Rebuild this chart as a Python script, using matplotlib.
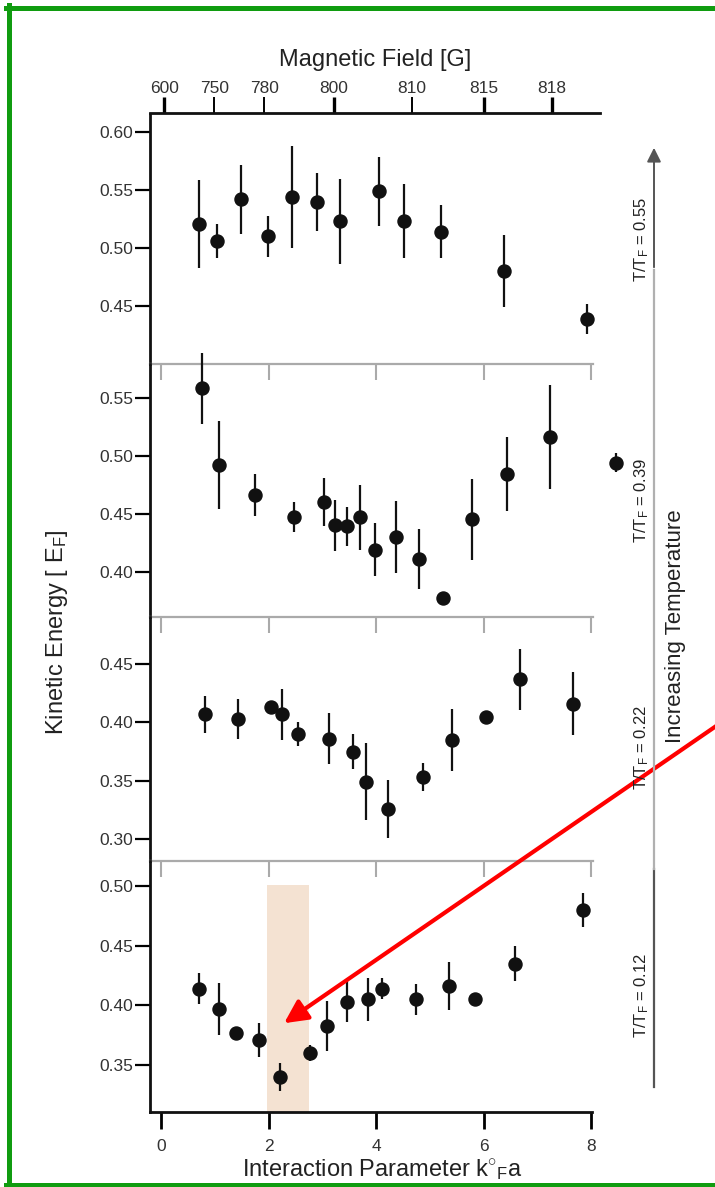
import matplotlib
matplotlib.use("Agg")
import matplotlib.pyplot as plt
from matplotlib import font_manager
from matplotlib.lines import Line2D
from matplotlib.patches import FancyArrowPatch

# T/TF = 0.55
k_055 = [0.71, 1.05, 1.49, 1.99, 2.43, 2.90, 3.33, 4.06, 4.53, 5.21, 6.39, 7.92]
e_055 = [0.521, 0.506, 0.542, 0.510, 0.544, 0.540, 0.523, 0.549, 0.523, 0.514, 0.480, 0.439]
s_055 = [0.038, 0.015, 0.030, 0.018, 0.044, 0.025, 0.037, 0.030, 0.032, 0.023, 0.031, 0.013]

# T/TF = 0.39
k_039 = [0.76, 1.07, 1.75, 2.47, 3.03, 3.24, 3.46, 3.70, 3.99, 4.38, 4.80, 5.24, 5.79, 6.44, 7.23, 8.47]
e_039 = [0.558, 0.492, 0.466, 0.447, 0.460, 0.440, 0.439, 0.447, 0.419, 0.430, 0.411, 0.377, 0.445, 0.484, 0.516, 0.494]
s_039 = [0.031, 0.038, 0.018, 0.013, 0.021, 0.022, 0.017, 0.028, 0.023, 0.031, 0.026, 0.003, 0.035, 0.032, 0.045, 0.008]

# T/TF = 0.22
k_022 = [0.82, 1.43, 2.05, 2.25, 2.55, 3.12, 3.58, 3.81, 4.23, 4.88, 5.41, 6.05, 6.67, 7.66]
e_022 = [0.407, 0.403, 0.413, 0.407, 0.390, 0.386, 0.375, 0.349, 0.326, 0.353, 0.385, 0.405, 0.437, 0.416]
s_022 = [0.016, 0.017, 0.0, 0.022, 0.010, 0.022, 0.015, 0.033, 0.025, 0.012, 0.027, 0.004, 0.026, 0.027]

# T/TF = 0.12
k_012 = [0.71, 1.07, 1.40, 1.82, 2.21, 2.77, 3.09, 3.46, 3.85, 4.11, 4.74, 5.35, 5.84, 6.59, 7.86]
e_012 = [0.414, 0.397, 0.377, 0.371, 0.340, 0.360, 0.383, 0.403, 0.405, 0.414, 0.405, 0.416, 0.405, 0.435, 0.480]
s_012 = [0.013, 0.022, 0.0, 0.014, 0.012, 0.007, 0.021, 0.017, 0.018, 0.009, 0.013, 0.020, 0.005, 0.015, 0.014]

temps = ["0.55", "0.39", "0.22", "0.12"]
yticks = [[0.60, 0.55, 0.50, 0.45], [0.55, 0.50, 0.45, 0.40],
          [0.45, 0.40, 0.35, 0.30], [0.50, 0.45, 0.40, 0.35]]

# magnetic field axis (top), placed at k_F a values
field_labels = ["600", "750", "780", "800", "810", "815", "818"]
field_pos = [0.06, 0.99, 1.92, 3.22, 4.67, 6.01, 7.27]

band = [1.98, 2.75]
band_top = 0.501

have = {f.name for f in font_manager.fontManager.ttflist}
if "Liberation Sans Narrow" in have:
    fam, sc = "Liberation Sans Narrow", 1.1
else:
    fam, sc = "Liberation Sans", 1.0
plt.rcParams["font.family"] = [fam, "DejaVu Sans"]
plt.rcParams["mathtext.fontset"] = "custom"
plt.rcParams["mathtext.rm"] = fam
plt.rcParams["mathtext.it"] = fam
plt.rcParams["text.color"] = "#222222"

W, H = 715, 1187
fig = plt.figure(figsize=(W / 100, H / 100), dpi=100)


def fx(px):
    return px / W


def fy(py):
    return 1 - py / H


x0, x1 = -0.205, 8.6
right_px = 161 + x1 * 53.75
# top px, bottom px, ylim
panels = [(113.5, 364, (0.3999, 0.6162)),
          (364, 617, (0.3609, 0.5791)),
          (617, 861, (0.2810, 0.4906)),
          (861, 1111.7, (0.3108, 0.5210))]
data = [(k_055, e_055, s_055), (k_039, e_039, s_039),
        (k_022, e_022, s_022), (k_012, e_012, s_012)]

axes = []
for i, ((top, bot, yl), (k, e, s)) in enumerate(zip(panels, data)):
    ax = fig.add_axes([fx(150), fy(bot), fx(right_px) - fx(150), (bot - top) / H])
    ax.set_facecolor("none")
    ax.errorbar(k, e, yerr=s, fmt="o", color="#111111", ms=9.4, elinewidth=1.6,
                capsize=0, clip_on=False, zorder=3)
    ax.set_xlim(x0, x1)
    ax.set_ylim(*yl)
    ax.set_yticks(yticks[i])
    ax.set_yticklabels(["%.2f" % v for v in yticks[i]])
    ax.tick_params(axis="y", length=10.5, width=1.6, pad=1.5, labelsize=12.5 * sc,
                   labelcolor="#333333")
    ax.spines["right"].set_visible(False)
    ax.spines["top"].set_visible(False)
    ax.spines["left"].set_linewidth(2)
    ax.spines["left"].set_color("#111111")
    ax.set_xticks([0, 2, 4, 6, 8])
    if i < 3:
        ax.spines["bottom"].set_color("#aaaaaa")
        ax.spines["bottom"].set_linewidth(1.6)
        ax.spines["bottom"].set_bounds(x0, 8.03)
        ax.tick_params(axis="x", length=11.5, width=1.5, color="#aaaaaa",
                       labelbottom=False)
    else:
        ax.spines["bottom"].set_color("#111111")
        ax.spines["bottom"].set_linewidth(2)
        ax.spines["bottom"].set_bounds(x0, 8.02)
        ax.set_xticklabels(["0", "2", "4", "6", "8"])
        ax.tick_params(axis="x", length=12, width=2, pad=8, labelsize=12.5 * sc,
                       labelcolor="#333333")
    axes.append(ax)

# magnetic field axis on top panel
sec = axes[0].secondary_xaxis("top")
sec.set_xticks(field_pos, labels=field_labels)
sec.tick_params(length=11.5, width=1.4, pad=1, labelsize=12.5 * sc, labelcolor="#333333")
sec.spines["top"].set_linewidth(2)
sec.spines["top"].set_color("#111111")
sec.spines["top"].set_bounds(x0, 8.17)
for j, t in enumerate(sec.xaxis.get_major_ticks()):
    if j in (0, 3, 5, 6):
        t.tick1line.set_markeredgewidth(2.4)
        t.tick2line.set_markeredgewidth(2.4)

# shaded region in lowest panel
ax4 = axes[3]
ax4.fill_between(band, ax4.get_ylim()[0], band_top, color="#f4e2d2", lw=0, zorder=0)

# red arrow
ax4.annotate("", xy=(2.29, 0.385), xycoords="data",
             xytext=(fx(722), fy(722)), textcoords="figure fraction",
             arrowprops=dict(arrowstyle="-|>,head_length=0.7,head_width=0.35",
                             color="#ff0000", lw=3.0, mutation_scale=20,
                             shrinkA=0, shrinkB=0),
             annotation_clip=False, zorder=5)

# labels
fig.text(fx(375), fy(60), "Magnetic Field [G]", ha="center", va="center", fontsize=17 * sc)
fig.text(fx(382), fy(1170), r"Interaction Parameter k$^{\circ}$$_{\rm F}$a",
         ha="center", va="center", fontsize=17 * sc)
fig.text(fx(57), fy(632), r"Kinetic Energy [ E$_{\rm F}$]", rotation=90,
         ha="center", va="center", fontsize=17 * sc)

# temperature labels and arrow on the right
for t, ypx in zip(temps, [239, 500, 747, 995]):
    fig.text(fx(642), fy(ypx), r"T/T$_{\rm F}$ = " + t, rotation=90,
             ha="center", va="center", fontsize=12 * sc)
fig.text(fx(675), fy(626), "Increasing Temperature", rotation=90,
         ha="center", va="center", fontsize=16 * sc)

ax_x = fx(654)
fig.add_artist(Line2D([ax_x, ax_x], [fy(1087), fy(869)], color="#555555", lw=1.6))
fig.add_artist(Line2D([ax_x, ax_x], [fy(869), fy(270)], color="#b0b0b0", lw=1.6))
fig.add_artist(FancyArrowPatch((ax_x, fy(270)), (ax_x, fy(145)), transform=fig.transFigure,
                               arrowstyle="-|>,head_length=0.6,head_width=0.3",
                               mutation_scale=14, color="#555555", lw=1.4))

# green frame
g = "#109c10"
fig.add_artist(Line2D([fx(8.5), fx(8.5)], [0, fy(5)], color=g, lw=3.6))
fig.add_artist(Line2D([fx(6), 1], [fy(7.5), fy(7.5)], color=g, lw=3.6))
fig.add_artist(Line2D([fx(6), 1], [fy(1185), fy(1185)], color=g, lw=3.6))

fig.savefig("out.png", dpi=100)
